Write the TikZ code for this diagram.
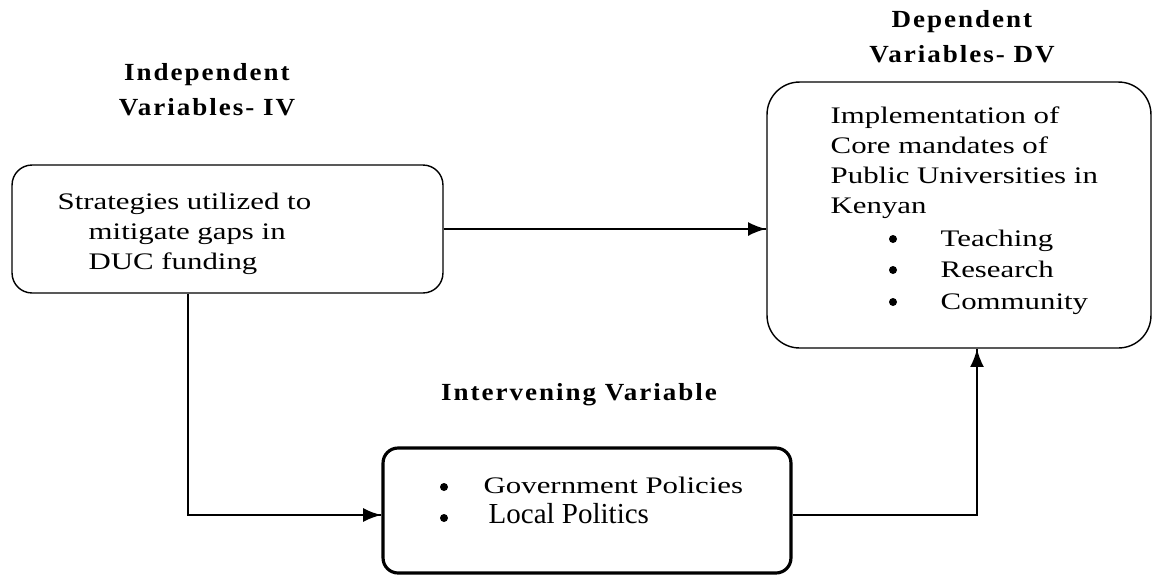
\documentclass[tikz,border=0pt]{standalone}
\usepackage{fontspec}
\setmainfont{Liberation Serif}[FakeStretch=1.3]
\newfontfamily\headfont{Liberation Serif}[FakeStretch=1.1, LetterSpace=8]
\newfontfamily\plainfont{Liberation Serif}
\usetikzlibrary{decorations.markings}
\tikzset{->/.style = {decoration={markings, mark=at position 1 with {\arrow[scale=2]{latex}}}, postaction={decorate}}}
\tikzset{head/.style = {align = center, font = \headfont\fontsize{14}{20}\selectfont\bfseries}}
\tikzset{txt/.style = {anchor = mid west, inner sep = 0, font = \fontsize{13.5}{17}\selectfont}}
\tikzset{dot/.style = {circle, fill, inner sep = 0, minimum size = 0.16cm}}

\begin{document}
\begin{tikzpicture}[x = 0.02cm, y = -0.02cm, line width = 0.8pt]
\useasboundingbox (0,0) rectangle (1154,576);
\node [draw, rounded corners = 0.4cm, minimum width = 8.62cm, minimum height = 2.56cm] (iv) at (227.5, 229) {};
\node [draw, rounded corners = 0.65cm, minimum width = 7.68cm, minimum height = 5.32cm] (dv) at (959, 215) {};
\node [draw, line width = 1.8pt, rounded corners = 0.3cm, minimum width = 8.16cm, minimum height = 2.5cm] (ib) at (587, 510.5) {};
\node [head] (ivhead) at (207, 90) {Independent\\Variables- IV};
\node [head] (dvhead) at (962, 37) {Dependent\\Variables- DV};
\node [head] (ibhead) at (579, 395) {Intervening Variable};
\node [txt] (iv1) at (57, 205) {Strategies utilized to};
\node [txt] (iv2) at (88, 235) {mitigate gaps in};
\node [txt] (iv3) at (88, 265) {DUC funding};
\node [txt] (dv1) at (830, 119) {Implementation of};
\node [txt] (dv2) at (830, 149) {Core mandates of};
\node [txt] (dv3) at (830, 179) {Public Universities in};
\node [txt] (dv4) at (830, 209) {Kenyan};
\node [dot] (dvb1) at (893, 239) {};
\node [dot] (dvb2) at (893, 270) {};
\node [dot] (dvb3) at (893, 302) {};
\node [txt] (dvi1) at (940, 242) {Teaching};
\node [txt] (dvi2) at (940, 273) {Research};
\node [txt] (dvi3) at (940, 305) {Community};
\node [dot] (ibb1) at (444, 487) {};
\node [dot] (ibb2) at (444, 518) {};
\node [txt] (ibi1) at (483, 489) {Government Policies};
\node [txt, font = \plainfont\fontsize{16.5}{17}\selectfont] (ibi2) at (488, 519) {Local Politics};
\coordinate (ivturn) at (188, 515);
\coordinate (dvturn) at (977, 515);
\draw [->] (iv.east) -- (iv.east -| dv.west);
\draw [->] (ivturn |- iv.south) -- (ivturn) -- (ivturn -| ib.west);
\draw [->] (ib.east |- dvturn) -- (dvturn) -- (dvturn |- dv.south);
\end{tikzpicture}
\end{document}
